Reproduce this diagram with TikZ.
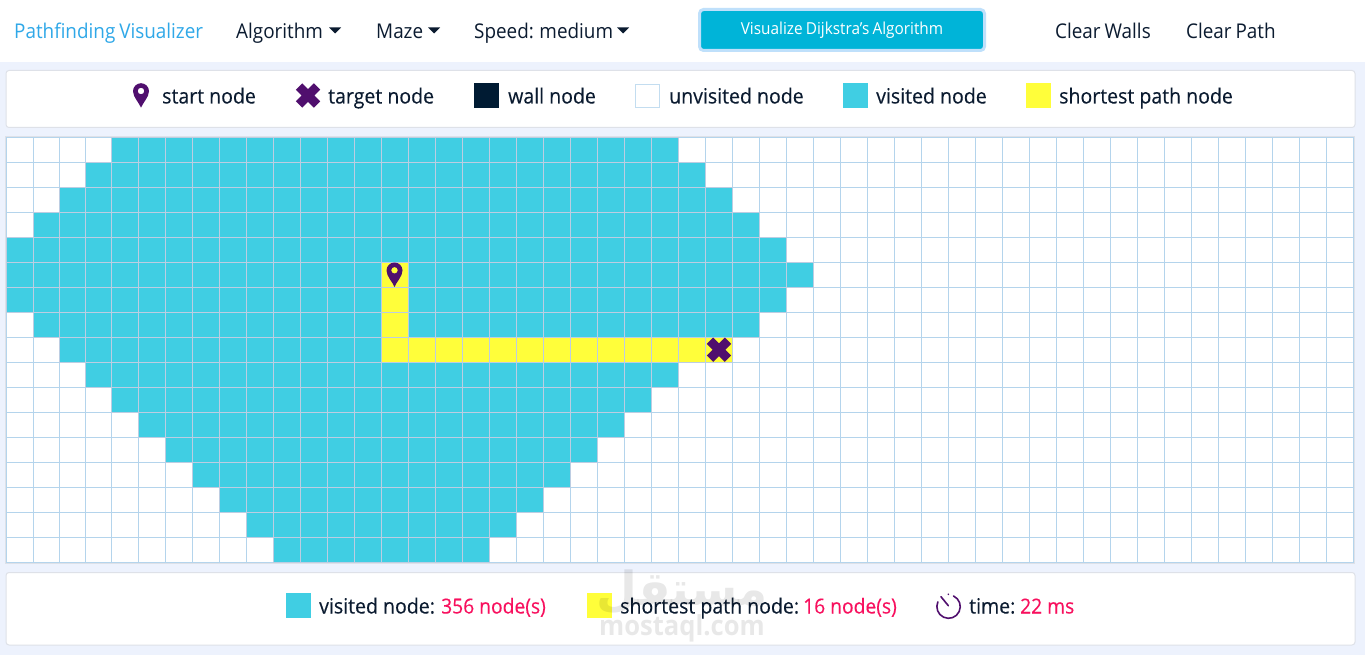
\documentclass[tikz,border=0pt]{standalone}
\usepackage{fontspec}
\setmainfont[FakeStretch=0.93,WordSpace=0.8]{Open Sans}
\newfontfamily\legendfont[FakeStretch=0.93,FakeBold=0.25]{Open Sans}
\newfontfamily\arabicfont[Script=Arabic]{DejaVu Sans Bold}
\TeXXeTstate=1
\definecolor{pagebg}{HTML}{EDF2FD}
\definecolor{visitedc}{HTML}{40CEE3}
\definecolor{pathc}{HTML}{FFFE3A}
\definecolor{iconc}{HTML}{500F6E}
\definecolor{wallc}{HTML}{001B33}
\definecolor{inkc}{HTML}{0B1B30}
\definecolor{brandc}{HTML}{2FA8E8}
\definecolor{countc}{HTML}{F8105E}
\definecolor{gridc}{HTML}{B4D4EC}
\definecolor{gridv}{HTML}{BCCDE2}
\definecolor{cardc}{HTML}{DEE1E8}
\definecolor{btnc}{HTML}{00B4D8}
\definecolor{btnring}{HTML}{BFE0FB}
\pgfmathdeclarefunction{colx}{1}{\pgfmathparse{#1<4 ? 6.5+26.25*#1 : 111.5+27*(#1-4)}}
\pgfmathdeclarefunction{rowy}{1}{\pgfmathparse{137.5+25*#1}}
\tikzset{
  navtext/.style={anchor=base west, inner sep=0pt, text=inkc, font=\fontsize{20.3}{24}\selectfont},
  legtext/.style={anchor=base west, inner sep=0pt, text=inkc, font=\fontsize{21}{24}\legendfont},
  counttext/.style={legtext, text=countc, font=\fontsize{20.7}{24}\legendfont},
  marktext/.style={inner sep=0pt, text=black, text opacity=.09},
  card/.style={draw=cardc, line width=1pt, fill=white, rounded corners=3pt},
  pin/.pic={\fill[iconc, even odd rule] (0,0) .. controls (-1.5,-4.5) and (-8,-10.5) .. (-8,-16.5)
      .. controls (-8,-20.9) and (-4.4,-24.5) .. (0,-24.5) .. controls (4.4,-24.5) and (8,-20.9) .. (8,-16.5)
      .. controls (8,-10.5) and (1.5,-4.5) .. (0,0) -- cycle (0,-16.7) circle [radius=3.3];},
  cross/.pic={\draw[iconc, line width=9pt, line join=round] (-9,-9) -- (9,9) (-9,9) -- (9,-9);},
  caret/.pic={\fill[inkc] (-6,-2.5) -- (6,-2.5) -- (0,3.5) -- cycle;}
}
\begin{document}
\begin{tikzpicture}[x=1pt, y=-1pt]
\useasboundingbox (0,0) rectangle (1365,655);
\fill[pagebg] (0,0) rectangle (1365,655);
% navbar
\fill[white] (0,0) rectangle (1365,62);
\node[navtext, text=brandc] (brand) at (14,38.5) {Pathfinding Visualizer};
\node[navtext] (algo) at (236,38.5) {Algorithm};
\node[navtext] (maze) at (376,38.5) {Maze};
\node[navtext] (speed) at (474,38.5) {Speed: medium};
\pic at (335,30) {caret};
\pic at (434,30) {caret};
\pic at (623,30) {caret};
\node[draw=btnring, line width=3pt, fill=btnc, rounded corners=4pt, outer sep=0pt, minimum width=285pt, minimum height=41pt, inner sep=0pt, text=white, font=\fontsize{16.5}{20}\selectfont] (visualize) at (842,30) {Visualize Dijkstra's Algorithm};
\node[navtext] (walls) at (1055,38.5) {Clear Walls};
\node[navtext] (path) at (1186,38.5) {Clear Path};
% legend
\draw[card] (6,70.5) rectangle (1355,127.5);
\pic at (141,107.7) {pin};
\node[legtext] (lstart) at (162,103.5) {start node};
\pic at (308,95.5) {cross};
\node[legtext] (ltarget) at (328,103.5) {target node};
\fill[wallc] (474,83.5) rectangle (499,108);
\node[legtext] (lwall) at (508,103.5) {wall node};
\draw[gridc!80, fill=white] (635.5,84) rectangle (659.5,107.5);
\node[legtext] (lunvisited) at (669,103.5) {unvisited node};
\fill[visitedc] (843,83.5) rectangle (868,108);
\node[legtext] (lvisited) at (876,103.5) {visited node};
\fill[pathc] (1026,83.5) rectangle (1051,108);
\node[legtext] (lpath) at (1059,103.5) {shortest path node};
% grid
\fill[white] (5.5,136.5) rectangle (1354.5,563.5);
\foreach \c in {0,...,50} {
  \pgfmathsetmacro{\a}{colx(\c)}
  \draw[gridc] (\a,137.5) -- (\a,562.5);
}
\foreach \r in {0,...,17} {
  \pgfmathsetmacro{\b}{rowy(\r)}
  \draw[gridc] (6.5,\b) -- (1353.5,\b);
}
\foreach \r/\p/\q in {0/4/24,1/3/25,2/2/26,3/1/27,4/0/28,5/0/29,6/0/28,7/1/27,8/2/26,9/3/24,10/4/23,11/5/22,12/6/21,13/7/20,14/8/19,15/9/18,16/10/17} {
  \pgfmathsetmacro{\xa}{colx(\p)}
  \pgfmathsetmacro{\xb}{colx(\q+1)}
  \pgfmathsetmacro{\ya}{rowy(\r)}
  \pgfmathsetmacro{\yb}{rowy(\r+1)}
  \fill[visitedc] (\xa,\ya) rectangle (\xb,\yb);
  \foreach \c in {\p,...,\q} {
    \pgfmathsetmacro{\a}{colx(\c)}
    \draw[gridv] (\a,\ya) -- (\a,\yb);
  }
  \draw[gridv] (\xa,\ya) -- (\xb,\ya) (\xa,\yb) -- (\xb,\yb) (\xb,\ya) -- (\xb,\yb);
}
% path cells
\foreach \r/\c in {5/14,6/14,7/14,8/14,8/15,8/16,8/17,8/18,8/19,8/20,8/21,8/22,8/23,8/24,8/25,8/26} {
  \pgfmathsetmacro{\a}{colx(\c)}
  \pgfmathsetmacro{\b}{rowy(\r)}
  \fill[pathc] (\a+0.5,\b+0.5) rectangle (\a+26.5,\b+24.5);
}
\draw[cardc] (5.5,136.5) rectangle (1354.5,563.5);
\pic at (394.5,287) {pin};
\pic at (719,349.7) {cross};
% stats
\draw[card] (6,572.5) rectangle (1355,645);
\fill[visitedc] (286,593) rectangle (311,618);
\node[legtext] (svisited) at (319,613.5) {visited node:};
\node[counttext] (nvisited) at (441,613.5) {356 node(s)};
\fill[pathc] (587,593) rectangle (612,618);
\node[legtext] (spath) at (620,613.5) {shortest path node:};
\node[counttext] (npath) at (803,613.5) {16 node(s)};
\draw[iconc, line width=1.6pt, line cap=round] (953.5,596) arc [start angle=-65, end angle=204, radius=11.7];
\draw[iconc, line width=1.6pt, line cap=round] (948.3,605.7) -- (941,596.7) (948.3,594.2) -- (948.3,594.4);
\node[legtext] (stime) at (969,613.5) {time:};
\node[counttext] (ntime) at (1020,613.5) {22 ms};
% watermark
\node[marktext, font=\fontsize{47}{60}\arabicfont] (markar) at (682,592) {\beginR مستقل\endR};
\node[marktext, font=\fontsize{27.5}{30}\selectfont\bfseries] (markla) at (682,628) {mostaql.com};
\end{tikzpicture}
\end{document}
